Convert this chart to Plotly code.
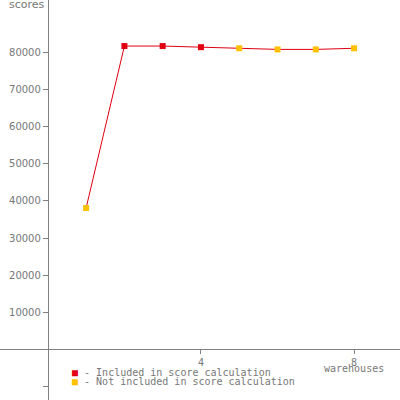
import plotly.graph_objects as go

warehouses = [1, 2, 3, 4, 5, 6, 7, 8]
scores = [38100, 81700, 81700, 81400, 81100, 80800, 80800, 81100]
included = [False, True, True, True, False, False, False, False]

y_ticks = [-10000, 10000, 20000, 30000, 40000, 50000, 60000, 70000, 80000]
y_labels = ["", "10000", "20000", "30000", "40000", "50000", "60000", "70000", "80000"]
x_ticks = [4, 8]
x_labels = ["4", "8"]

RED = "#e00010"
YELLOW = "#ffc000"
GRAY = "#808080"
TXT = "#777777"

x_range = [-1.25, 9.2]
y_range = [-13600, 94100]

fig = go.Figure()
fig.add_trace(go.Scatter(
    x=warehouses, y=scores, mode="lines+markers",
    line=dict(color=RED, width=1),
    marker=dict(symbol="square", size=6,
                color=[RED if f else YELLOW for f in included]),
    showlegend=False,
))

fig.update_layout(
    width=400, height=400,
    margin=dict(l=0, r=0, t=0, b=0, autoexpand=False),
    plot_bgcolor="white", paper_bgcolor="white",
    font=dict(family="DejaVu Sans", size=10, color=TXT),
    xaxis=dict(
        range=x_range, showgrid=False, zeroline=False,
        showline=True, linecolor=GRAY, linewidth=1,
        anchor="free", position=(0 - y_range[0]) / (y_range[1] - y_range[0]),
        tickvals=x_ticks, ticktext=x_labels,
        ticks="outside", ticklen=4, tickcolor=GRAY,
        tickfont=dict(family="DejaVu Sans Mono", size=10, color=TXT),
    ),
    yaxis=dict(
        range=y_range, showgrid=False, zeroline=False,
        showline=True, linecolor=GRAY, linewidth=1,
        anchor="free", position=(0 - x_range[0]) / (x_range[1] - x_range[0]),
        tickvals=y_ticks, ticktext=y_labels,
        ticks="outside", ticklen=5, tickcolor=GRAY,
    ),
)

fig.add_annotation(
    text="scores", xref="paper", yref="paper", x=0.018, y=1,
    xanchor="left", yanchor="top", yshift=4, showarrow=False,
    font=dict(family="DejaVu Sans", size=11, color=TXT),
)
fig.add_annotation(
    text="warehouses", xref="x", yref="y", x=8, y=0,
    xanchor="center", yanchor="middle", yshift=-19, showarrow=False,
    font=dict(family="DejaVu Sans Mono", size=10, color=TXT),
)
legend_items = [(RED, "- Included in score calculation"),
                (YELLOW, "- Not included in score calculation")]
for i, (c, label) in enumerate(legend_items):
    fig.add_annotation(
        text=f"<span style='color:{c}'>■</span> {label}",
        xref="paper", yref="paper", x=0.175, y=0.069 - i * 0.023,
        xanchor="left", yanchor="middle", align="left", showarrow=False,
        font=dict(family="DejaVu Sans Mono", size=10, color=TXT),
    )

fig.write_html("out.html", config={"displayModeBar": False},
               post_script="document.body.style.margin='0';")
